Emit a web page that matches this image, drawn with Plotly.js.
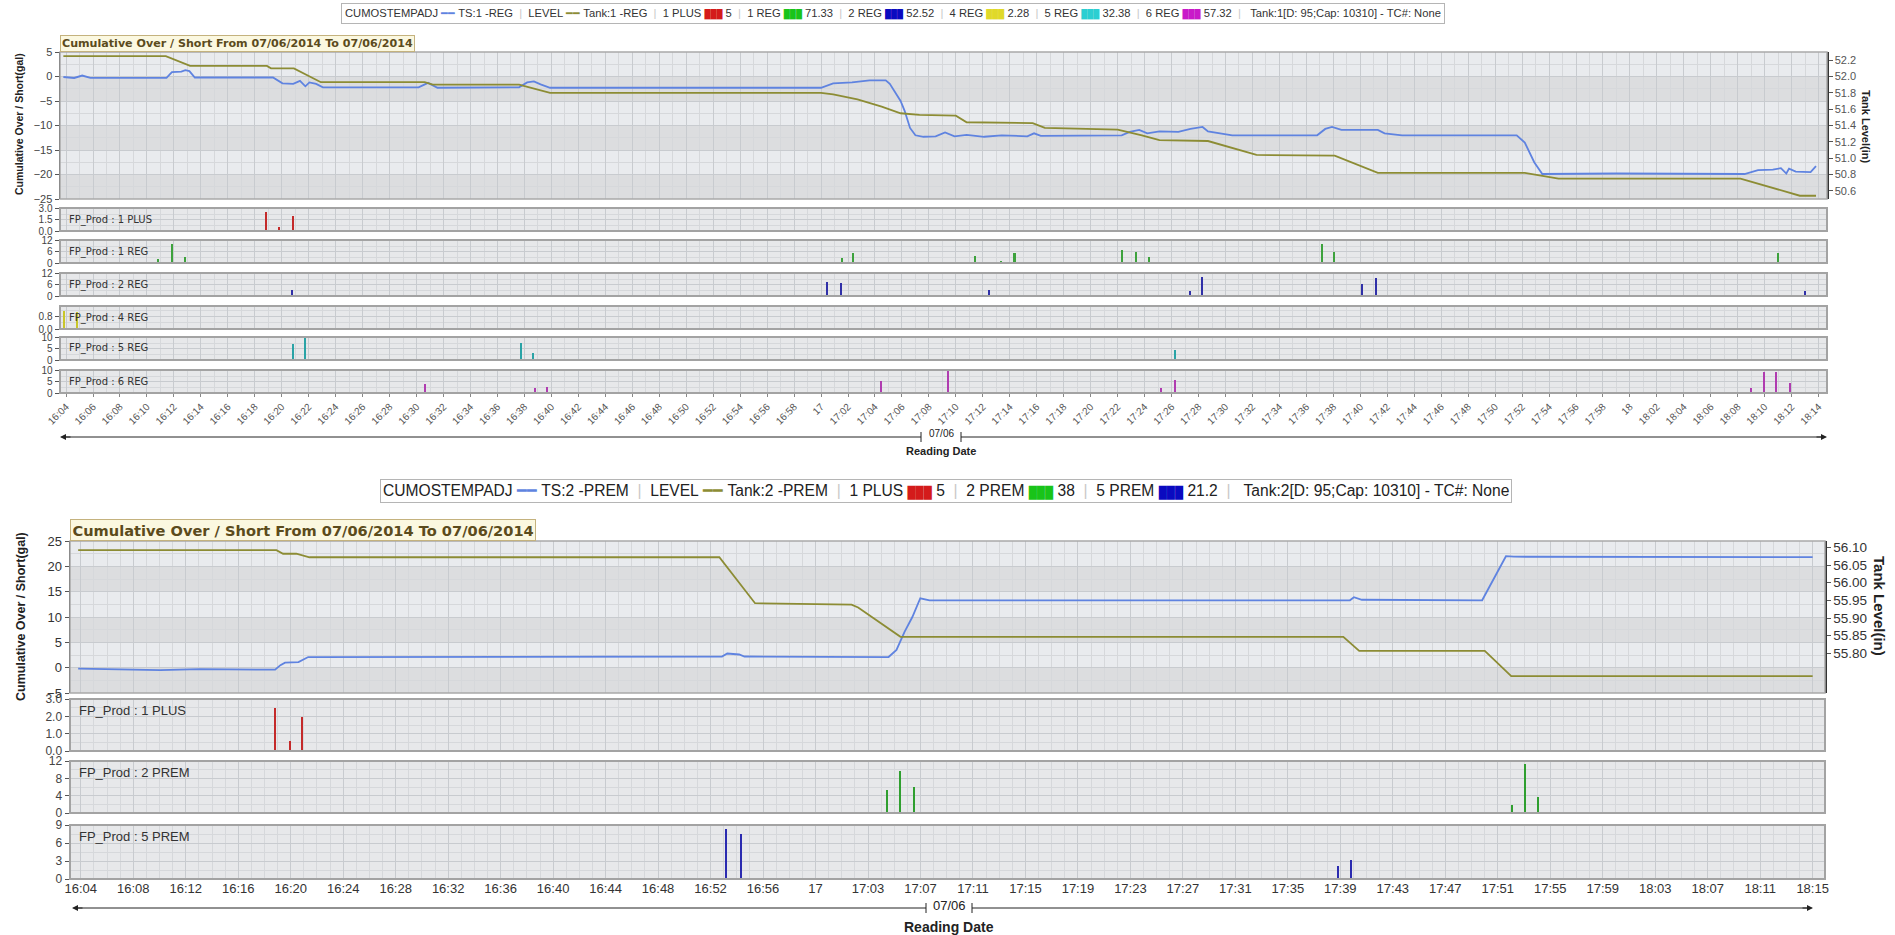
<!DOCTYPE html>
<html><head><meta charset="utf-8">
<script src="https://cdn.plot.ly/plotly-3.0.1.min.js"></script>
<style>html,body{margin:0;padding:0;background:#fff}#chart{width:1895px;height:935px}</style>
</head><body><div id="chart"></div>
<script>
// ================= DATA =================
const chartTitle = 'Cumulative Over / Short From 07/06/2014 To 07/06/2014';

// ---- Tank 1 (upper chart) ----
const tank1CumTimes = ['16:03:48','16:04:36','16:05:12','16:05:48','16:11:27','16:11:51','16:12:33','16:12:51','16:13:09','16:13:33',
  '16:19:21','16:20:03','16:20:51','16:21:21','16:21:45','16:22:03','16:22:33','16:23:03','16:30:09','16:30:51','16:31:33',
  '16:37:36','16:38:12','16:38:42','16:39:12','16:39:54','17:00:00','17:00:54','17:02:18','17:03:36','17:04:48','17:05:06',
  '17:05:54','17:06:12','17:06:36','17:07:00','17:07:36','17:08:30','17:09:12','17:09:54','17:10:48','17:12:06','17:13:24',
  '17:15:18','17:15:48','17:16:18','17:22:18','17:22:54','17:23:36','17:24:12','17:25:06','17:26:30','17:27:24','17:28:18',
  '17:28:42','17:29:36','17:30:30','17:36:48','17:37:24','17:37:54','17:38:36','17:41:18','17:41:48','17:43:06','17:51:36',
  '17:52:12','17:52:54','17:53:30','17:59:00','18:08:30','18:09:30','18:10:36','18:11:12','18:11:36','18:11:48','18:12:18',
  '18:13:24','18:13:48'];
const tank1CumValues = [-0.1,-0.3,0.2,-0.3,-0.3,0.9,1.0,1.3,1.1,-0.2,
  -0.2,-1.4,-1.5,-0.9,-2.0,-1.2,-1.5,-2.2,-2.2,-1.3,-2.3,
  -2.2,-1.2,-1.0,-1.6,-2.3,-2.3,-1.4,-1.2,-0.8,-0.8,-1.5,
  -5.0,-7.0,-10.5,-12.0,-12.3,-12.2,-11.4,-12.2,-11.9,-12.3,-12.0,
  -12.2,-11.6,-12.1,-12.0,-11.3,-10.9,-11.6,-11.2,-11.3,-10.7,-10.3,
  -11.2,-11.6,-12.0,-12.0,-10.7,-10.3,-10.9,-10.9,-11.6,-12.0,-12.0,
  -13.5,-17.5,-19.9,-19.8,-19.9,-19.1,-19.0,-18.7,-19.8,-18.8,-19.4,
  -19.5,-18.3];
const tank1LevelTimes = ['16:03:48','16:11:24','16:13:12','16:18:54','16:19:12','16:20:54','16:22:54','16:30:36','16:31:12',
  '16:37:36','16:39:54','17:00:00','17:00:54','17:02:42','17:04:30','17:05:54','17:07:18','17:10:00','17:10:48','17:15:42',
  '17:16:36','17:22:00','17:23:48','17:25:06','17:28:42','17:32:18','17:38:06','17:41:18','17:52:12','17:54:42','18:08:12',
  '18:12:36','18:13:48'];
const tank1LevelValues = [52.25,52.25,52.13,52.13,52.10,52.10,51.93,51.93,51.90,
  51.90,51.80,51.80,51.78,51.72,51.63,51.55,51.53,51.52,51.44,51.43,
  51.37,51.35,51.28,51.22,51.21,51.04,51.03,50.82,50.82,50.75,50.75,
  50.54,50.54];

const tank1Plus1Times = ['16:18:49','16:19:47','16:20:49'];
const tank1Plus1Values = [2.5,0.5,2.0];
const tank1Reg1Times = ['16:10:51','16:11:51','16:12:51','17:01:33','17:02:21','17:03:15','17:11:27','17:13:21','17:14:21',
  '17:21:21','17:22:21','17:23:21','17:24:21','17:37:09','17:38:03','18:10:57','18:11:57'];
const tank1Reg1Values = [2.2,9.9,3.3,2.6,5.1,0.5,3.8,1.2,5.1,0.3,7.0,5.8,3.2,10.3,5.8,5.1,0.3];
const tank1Reg2Times = ['16:20:45','17:00:27','17:01:27','17:12:27','17:27:21','17:28:15','17:40:09','17:41:09','17:42:09','18:12:57'];
const tank1Reg2Values = [3.1,7.6,7.0,3.1,2.6,10.2,6.4,9.6,0.3,2.6];
const tank1Reg4Times = ['16:03:50','16:04:48'];
const tank1Reg4Values = [1.2,1.08];
const tank1Reg5Times = ['16:20:51','16:21:45','16:22:39','16:37:45','16:38:39','17:26:15'];
const tank1Reg5Values = [7.0,9.8,0.5,7.6,3.2,4.3];
const tank1Reg6Times = ['16:30:39','16:38:45','16:39:39','17:04:27','17:09:27','17:25:15','17:26:15','18:08:57','18:09:57','18:10:51','18:11:51'];
const tank1Reg6Values = [3.9,2.0,2.6,5.2,10.0,2.0,5.9,2.0,9.2,9.2,4.6];

const tank1LegendCum = ['CUMOSTEMPADJ','TS:1 -REG'];
const tank1LegendLevel = ['LEVEL','Tank:1 -REG'];
const tank1ProductNames = ['1 PLUS','1 REG','2 REG','4 REG','5 REG','6 REG'];
const tank1ProductTotals = ['5','71.33','52.52','2.28','32.38','57.32'];
const tank1Info = 'Tank:1[D: 95;Cap: 10310] - TC#: None';
const topTickLabels = ['16:04','16:06','16:08','16:10','16:12','16:14','16:16','16:18','16:20','16:22','16:24','16:26','16:28','16:30',
  '16:32','16:34','16:36','16:38','16:40','16:42','16:44','16:46','16:48','16:50','16:52','16:54','16:56','16:58','17','17:02','17:04',
  '17:06','17:08','17:10','17:12','17:14','17:16','17:18','17:20','17:22','17:24','17:26','17:28','17:30','17:32','17:34','17:36',
  '17:38','17:40','17:42','17:44','17:46','17:48','17:50','17:52','17:54','17:56','17:58','18','18:02','18:04','18:06','18:08',
  '18:10','18:12','18:14'];

// ---- Tank 2 (lower chart) ----
const tank2CumTimes = ['16:03:48','16:07:00','16:10:00','16:13:00','16:18:42','16:19:06','16:19:27','16:20:28','16:21:12',
  '16:52:30','16:52:54','16:53:48','16:54:12','17:05:06','17:05:42','17:06:18','17:06:54','17:07:30','17:08:12','17:40:00',
  '17:40:18','17:40:54','17:50:00','17:51:48','17:52:24','18:15:00'];
const tank2CumValues = [-0.2,-0.3,-0.5,-0.3,-0.4,0.5,1.0,1.1,2.1,
  2.2,2.8,2.6,2.2,2.1,3.5,7.0,10.0,13.7,13.3,13.3,
  13.9,13.4,13.3,22.0,21.9,21.8];
const tank2LevelTimes = ['16:03:48','16:18:48','16:19:18','16:20:18','16:21:18','16:52:18','16:55:00','17:02:18','17:02:48',
  '17:06:00','17:39:30','17:40:42','17:50:12','17:52:12','18:15:00'];
const tank2LevelValues = [56.092,56.092,56.082,56.082,56.072,56.072,55.942,55.938,55.930,
  55.847,55.847,55.807,55.807,55.736,55.736];
const tank2Plus1Times = ['16:18:43','16:19:49','16:20:44'];
const tank2Plus1Values = [2.5,0.55,1.95];
const tank2Prem2Times = ['17:05:00','17:05:56','17:07:02','17:52:14','17:53:14','17:54:14'];
const tank2Prem2Values = [5.4,9.6,6.0,1.8,11.4,3.6];
const tank2Prem5Times = ['16:52:50','16:53:55','17:39:05','17:40:06'];
const tank2Prem5Values = [8.3,7.5,2.2,3.2];

const tank2LegendCum = ['CUMOSTEMPADJ','TS:2 -PREM'];
const tank2LegendLevel = ['LEVEL','Tank:2 -PREM'];
const tank2ProductNames = ['1 PLUS','2 PREM','5 PREM'];
const tank2ProductTotals = ['5','38','21.2'];
const tank2Info = 'Tank:2[D: 95;Cap: 10310] - TC#: None';
const bottomTickLabels = ['16:04','16:08','16:12','16:16','16:20','16:24','16:28','16:32','16:36','16:40','16:44','16:48','16:52',
  '16:56','17','17:03','17:07','17:11','17:15','17:19','17:23','17:27','17:31','17:35','17:39','17:43','17:47','17:51','17:55',
  '17:59','18:03','18:07','18:11','18:15'];
const tank2LevelTicks = [55.80, 55.85, 55.90, 55.95, 56.00, 56.05, 56.10];

const axisTitleLeft = 'Cumulative Over / Short(gal)';
const axisTitleRight = 'Tank Level(in)';
const dateLabel = '07/06';
const xTitle = 'Reading Date';

// ================= HELPERS =================
const W = 1895, H = 935;
const px = x => x / W;
const py = y => 1 - y / H;
const dom = (top, bottom) => [py(bottom), py(top)];
function toMs(t) {
  const p = (t.includes(':') ? t : t + ':00').split(':').map(Number);
  return Date.UTC(2014, 6, 6, p[0], p[1], p[2] || 0);
}
const ms = arr => arr.map(toMs);

const COL = {
  cum: '#5f83e0', level: '#8c8c34',
  plus1: '#c42a2a', reg1: '#3da23d', reg2: '#3030a8', reg4: '#c9c62a', reg5: '#2aa3a6', reg6: '#b03cb0',
  prem2: '#2f9f2f', prem5: '#2b2bb0'
};
const SW = { plus1: '#d41b1b', reg1: '#19c419', reg2: '#0a0ac0', reg4: '#e0d92a', reg5: '#2ccfd2', reg6: '#c91ac9', prem2: '#19c419', prem5: '#0a0ac0' };

const FONT = 'Liberation Sans, Arial, sans-serif';
const VFONT = 'DejaVu Sans, Verdana, sans-serif';
const GRID = '#c8cbcf', MINOR = '#d6d8db';

// ================= TRACES =================
const traces = [];
function line(times, vals, color, xa, ya) {
  traces.push({type: 'scatter', mode: 'lines', x: ms(times), y: vals, xaxis: xa, yaxis: ya,
    line: {color: color, width: 1.8, shape: 'linear'}, hoverinfo: 'skip'});
}
function bars(times, vals, color, xa, ya) {
  traces.push({type: 'bar', x: ms(times), y: vals, xaxis: xa, yaxis: ya, width: 9000,
    marker: {color: color, line: {width: 0}}, hoverinfo: 'skip'});
}
line(tank1LevelTimes, tank1LevelValues, COL.level, 'x', 'y2');
line(tank1CumTimes, tank1CumValues, COL.cum, 'x', 'y');
bars(tank1Plus1Times, tank1Plus1Values, COL.plus1, 'x', 'y3');
bars(tank1Reg1Times, tank1Reg1Values, COL.reg1, 'x', 'y4');
bars(tank1Reg2Times, tank1Reg2Values, COL.reg2, 'x', 'y5');
bars(tank1Reg4Times, tank1Reg4Values, COL.reg4, 'x', 'y6');
bars(tank1Reg5Times, tank1Reg5Values, COL.reg5, 'x', 'y7');
bars(tank1Reg6Times, tank1Reg6Values, COL.reg6, 'x', 'y8');

line(tank2LevelTimes, tank2LevelValues, COL.level, 'x2', 'y10');
line(tank2CumTimes, tank2CumValues, COL.cum, 'x2', 'y9');
bars(tank2Plus1Times, tank2Plus1Values, COL.plus1, 'x2', 'y11');
bars(tank2Prem2Times, tank2Prem2Values, COL.prem2, 'x2', 'y12');
bars(tank2Prem5Times, tank2Prem5Values, COL.prem5, 'x2', 'y13');

// ================= LAYOUT =================
const topTickVals = topTickLabels.map(toMs);
const bStart = toMs(bottomTickLabels[0]), bEnd = toMs(bottomTickLabels[bottomTickLabels.length - 1]);
const bStep = (bEnd - bStart) / (bottomTickLabels.length - 1);
const bottomTickVals = bottomTickLabels.map((_, i) => bStart + i * bStep);

function yAx(o) {
  return Object.assign({
    anchor: o.xa, ticks: 'outside', ticklen: 4, tickcolor: '#555', showline: true, linecolor: '#555', linewidth: 1.5,
    showgrid: true, gridcolor: GRID, gridwidth: 1, zeroline: false, fixedrange: true,
    tickfont: {family: FONT, size: o.fs || 11, color: '#444'},
    minor: {showgrid: true, gridcolor: MINOR, gridwidth: 1}
  }, o.extra);
}

const layout = {
  width: W, height: H, margin: {l: 0, r: 0, t: 0, b: 0}, paper_bgcolor: '#ffffff', plot_bgcolor: '#e7e8ea',
  showlegend: false, bargap: 0,
  xaxis: {
    domain: [px(60), px(1827)], anchor: 'y8', type: 'date', range: [toMs('16:03:33'), toMs('18:14:37')],
    tickmode: 'array', tickvals: topTickVals, ticktext: topTickLabels, tickangle: -45,
    tickfont: {family: FONT, size: 10, color: '#555'}, ticks: 'outside', ticklen: 3, tickcolor: '#888',
    showgrid: true, gridcolor: GRID, gridwidth: 1, zeroline: false, showline: false, fixedrange: true,
    minor: {tickmode: 'linear', tick0: toMs('16:05'), dtick: 120000, showgrid: true, gridcolor: MINOR, gridwidth: 1}
  },
  xaxis2: {
    domain: [px(70), px(1825)], anchor: 'y13', type: 'date', range: [toMs('16:03:11'), toMs('18:15:56')],
    tickmode: 'array', tickvals: bottomTickVals, ticktext: bottomTickLabels, tickangle: 0,
    tickfont: {family: FONT, size: 13, color: '#333'}, ticks: '', ticklen: 0,
    showgrid: true, gridcolor: GRID, gridwidth: 1, zeroline: false, showline: false, fixedrange: true,
    minor: {tickmode: 'linear', tick0: bStart, dtick: bStep / 4, showgrid: true, gridcolor: MINOR, gridwidth: 1}
  },
  yaxis: yAx({xa: 'x', extra: {domain: dom(52, 199), range: [-25, 5], dtick: 5, minor: {dtick: 2.5, showgrid: true, gridcolor: MINOR}, linecolor: '#333'}}),
  yaxis2: {overlaying: 'y', side: 'right', anchor: 'x', range: [50.5, 52.3], dtick: 0.2, tickformat: '.1f', showgrid: false,
    showline: true, linecolor: '#333', linewidth: 1.5, ticks: 'outside', ticklen: 4, tickcolor: '#555', zeroline: false,
    tickfont: {family: FONT, size: 11, color: '#555'}, fixedrange: true},
  yaxis3: yAx({xa: 'x', fs: 10, extra: {domain: dom(208, 231), range: [0, 3.05], tickvals: [0, 1.5, 3], tickformat: '.1f', minor: {dtick: 0.75, showgrid: true, gridcolor: MINOR}}}),
  yaxis4: yAx({xa: 'x', fs: 10, extra: {domain: dom(240, 263), range: [0, 12.2], tickvals: [0, 6, 12], minor: {dtick: 3, showgrid: true, gridcolor: MINOR}}}),
  yaxis5: yAx({xa: 'x', fs: 10, extra: {domain: dom(273, 296), range: [0, 12.2], tickvals: [0, 6, 12], minor: {dtick: 3, showgrid: true, gridcolor: MINOR}}}),
  yaxis6: yAx({xa: 'x', fs: 10, extra: {domain: dom(306, 329), range: [0, 1.5], tickvals: [0, 0.8], tickformat: '.1f', minor: {dtick: 0.4, showgrid: true, gridcolor: MINOR}}}),
  yaxis7: yAx({xa: 'x', fs: 10, extra: {domain: dom(337, 360), range: [0, 10.2], tickvals: [0, 5, 10], minor: {dtick: 2.5, showgrid: true, gridcolor: MINOR}}}),
  yaxis8: yAx({xa: 'x', fs: 10, extra: {domain: dom(370, 393), range: [0, 10.2], tickvals: [0, 5, 10], minor: {dtick: 2.5, showgrid: true, gridcolor: MINOR}}}),

  yaxis9: yAx({xa: 'x2', fs: 13, extra: {domain: dom(541, 693), range: [-5, 25], dtick: 5, minor: {dtick: 2.5, showgrid: true, gridcolor: MINOR}, linecolor: '#333', tickfont: {family: FONT, size: 13, color: '#333'}}}),
  yaxis10: {overlaying: 'y9', side: 'right', anchor: 'x2', range: [55.688, 56.118], tickmode: 'array', tickvals: tank2LevelTicks, tickformat: '.2f', showgrid: false,
    showline: true, linecolor: '#333', linewidth: 1.5, ticks: 'outside', ticklen: 4, tickcolor: '#555', zeroline: false,
    tickfont: {family: FONT, size: 13.5, color: '#333'}, fixedrange: true},
  yaxis11: yAx({xa: 'x2', fs: 12, extra: {domain: dom(699, 751), range: [0, 3.0], tickvals: [0, 1, 2, 3], tickformat: '.1f', minor: {dtick: 0.5, showgrid: true, gridcolor: MINOR}}}),
  yaxis12: yAx({xa: 'x2', fs: 12, extra: {domain: dom(761, 813), range: [0, 12], tickvals: [0, 4, 8, 12], minor: {dtick: 2, showgrid: true, gridcolor: MINOR}}}),
  yaxis13: yAx({xa: 'x2', fs: 12, extra: {domain: dom(825, 879), range: [0, 9], tickvals: [0, 3, 6, 9], minor: {dtick: 1.5, showgrid: true, gridcolor: MINOR}}}),
  shapes: [], annotations: []
};

// background bands on the main plots
function bandShapes(xa, ya, ticks) {
  for (let i = 0; i < ticks.length - 1; i++) {
    const fromTop = ticks.length - 2 - i;
    layout.shapes.push({type: 'rect', layer: 'below', xref: xa + ' domain', yref: ya, x0: 0, x1: 1, y0: ticks[i], y1: ticks[i + 1],
      fillcolor: fromTop % 2 === 0 ? '#e9ebee' : '#dcdddf', line: {width: 0}});
  }
}
bandShapes('x', 'y', [-25, -20, -15, -10, -5, 0, 5]);
bandShapes('x2', 'y9', [-5, 0, 5, 10, 15, 20, 25]);

// frames
function frame(xa, ya, color, w) {
  layout.shapes.push({type: 'rect', layer: 'above', xref: xa + ' domain', yref: ya + ' domain', x0: 0, x1: 1, y0: 0, y1: 1,
    line: {color: color, width: w}, fillcolor: 'rgba(0,0,0,0)'});
}
frame('x', 'y', '#a9a9a9', 1.5);
['y3', 'y4', 'y5', 'y6', 'y7', 'y8'].forEach(a => frame('x', a, '#a3a3a3', 2));
frame('x2', 'y9', '#a9a9a9', 1.5);
['y11', 'y12', 'y13'].forEach(a => frame('x2', a, '#a3a3a3', 2));

function ann(o) {
  layout.annotations.push(Object.assign({xref: 'paper', yref: 'paper', xanchor: 'center', yanchor: 'middle', showarrow: false}, o));
}

// panel labels
const topPanelAxes = ['y3', 'y4', 'y5', 'y6', 'y7', 'y8'];
tank1ProductNames.forEach((n, i) => {
  ann({xref: 'x domain', yref: topPanelAxes[i] + ' domain', x: 0.004, y: 0.5, xanchor: 'left',
    text: 'FP_Prod : ' + n, font: {family: VFONT, size: 10, color: '#333'}});
});
const botPanelAxes = ['y11', 'y12', 'y13'];
tank2ProductNames.forEach((n, i) => {
  ann({xref: 'x2 domain', yref: botPanelAxes[i] + ' domain', x: 0.004, y: 0.78, xanchor: 'left',
    text: 'FP_Prod : ' + n, font: {family: FONT, size: 13, color: '#333'}});
});

// title tabs
ann({x: px(60), y: py(52), xanchor: 'left', yanchor: 'bottom',
  text: '<b>' + chartTitle + '</b>', font: {family: VFONT, size: 11.1, color: '#5b4b1c'}, bgcolor: '#fbf8e0', bordercolor: '#c4b27e', borderwidth: 1, borderpad: 1});
ann({x: px(70), y: py(541), xanchor: 'left', yanchor: 'bottom',
  text: '<b>' + chartTitle + '</b>', font: {family: VFONT, size: 14.6, color: '#5b4b1c'}, bgcolor: '#fbf8e0', bordercolor: '#c4b27e', borderwidth: 1, borderpad: 1.5});

// legends
const NB = n => '&nbsp;'.repeat(n);
function legendText(cum, lev, names, totals, swKeys, info, swSize) {
  const SEP = NB(2) + '<span style="color:#c8c8c8">|</span>' + NB(2);
  const sw = c => '<span style="color:' + c + ';font-size:' + swSize + 'px">███</span>';
  let s = cum[0] + NB(1) + '<span style="color:' + COL.cum + '">━━</span>' + NB(1) + cum[1] + SEP +
    lev[0] + NB(1) + '<span style="color:' + COL.level + '">━━</span>' + NB(1) + lev[1];
  names.forEach((n, i) => { s += SEP + n + NB(1) + sw(SW[swKeys[i]]) + NB(1) + totals[i]; });
  return s + SEP + NB(1) + info;
}
ann({x: px(893), y: py(13),
  text: legendText(tank1LegendCum, tank1LegendLevel, tank1ProductNames, tank1ProductTotals, ['plus1', 'reg1', 'reg2', 'reg4', 'reg5', 'reg6'], tank1Info, 8.5),
  font: {family: FONT, size: 11.2, color: '#333'}, bgcolor: '#ffffff', bordercolor: '#b5b5b5', borderwidth: 1, borderpad: 3});
ann({x: px(946), y: py(491),
  text: legendText(tank2LegendCum, tank2LegendLevel, tank2ProductNames, tank2ProductTotals, ['plus1', 'prem2', 'prem5'], tank2Info, 11.5),
  font: {family: FONT, size: 15.6, color: '#222'}, bgcolor: '#ffffff', bordercolor: '#b5b5b5', borderwidth: 1, borderpad: 2});

// axis titles
ann({x: px(19), y: py(124), textangle: -90, text: '<b>' + axisTitleLeft + '</b>', font: {family: FONT, size: 10.5, color: '#222'}});
ann({x: px(1866), y: py(126), textangle: 90, text: '<b>' + axisTitleRight + '</b>', font: {family: FONT, size: 11, color: '#222'}});
ann({x: px(21), y: py(617), textangle: -90, text: '<b>' + axisTitleLeft + '</b>', font: {family: FONT, size: 12.5, color: '#222'}});
ann({x: px(1880), y: py(606), textangle: 90, text: '<b>' + axisTitleRight + '</b>', font: {family: FONT, size: 15, color: '#222'}});

// date range arrows + labels
function dateArrow(x0, x1, y, gapL, gapR, fs, textY, titleY) {
  const cx = (gapL + gapR) / 2;
  const L = (a, b, c, d) => layout.shapes.push({type: 'line', xref: 'paper', yref: 'paper', x0: px(a), x1: px(b), y0: py(c), y1: py(d), line: {color: '#222', width: 1}});
  L(x0 + 4, gapL, y, y); L(gapR, x1 - 4, y, y);
  L(gapL, gapL, y - 5, y + 5); L(gapR, gapR, y - 5, y + 5);
  layout.annotations.push({xref: 'paper', yref: 'paper', x: px(x0), y: py(y), ax: 12, ay: 0, showarrow: true, arrowhead: 2, arrowsize: 1, arrowwidth: 1.2, arrowcolor: '#222', text: ''});
  layout.annotations.push({xref: 'paper', yref: 'paper', x: px(x1), y: py(y), ax: -12, ay: 0, showarrow: true, arrowhead: 2, arrowsize: 1, arrowwidth: 1.2, arrowcolor: '#222', text: ''});
  ann({x: px(cx), y: py(textY), text: dateLabel, font: {family: FONT, size: fs, color: '#222'}});
  ann({x: px(cx), y: py(titleY), text: '<b>' + xTitle + '</b>', font: {family: FONT, size: fs + 1, color: '#222'}});
}
dateArrow(60, 1827, 437, 921, 961, 10, 434, 451);
dateArrow(72, 1813, 908, 926, 972, 13, 905, 927);

Plotly.newPlot('chart', traces, layout, {staticPlot: true, displayModeBar: false});
</script>
</body></html>
